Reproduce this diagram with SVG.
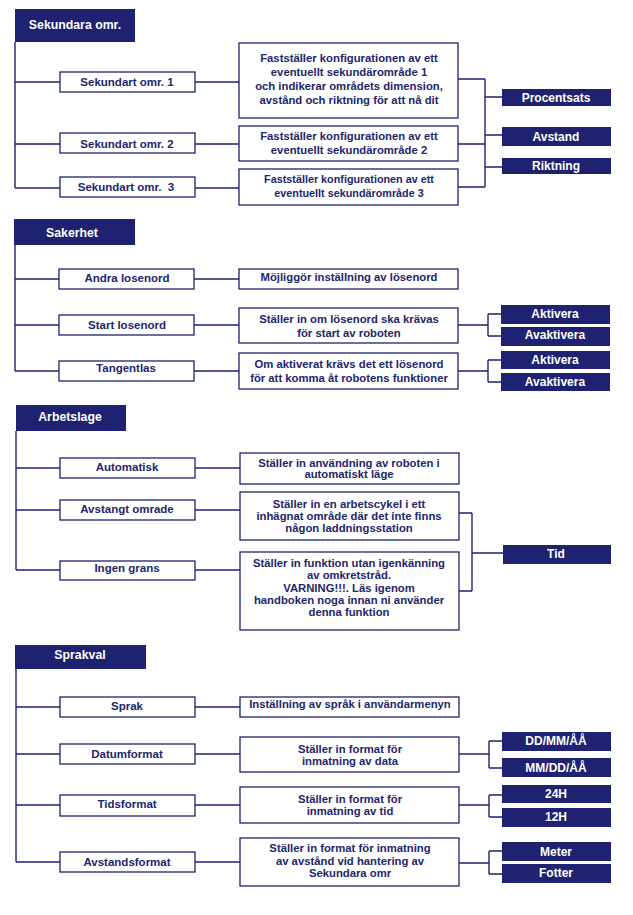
<svg xmlns="http://www.w3.org/2000/svg" width="633" height="915" viewBox="0 0 633 915">
<style>
.hdr{fill:#1e2270}
.box{fill:#fff;stroke:#1e2270;stroke-width:1.3}
.opt{fill:#1e2270}
.ht{font-family:"Liberation Sans",Arial,sans-serif;font-weight:bold;font-size:12.3px;fill:#fff}
.ot{font-family:"Liberation Sans",Arial,sans-serif;font-weight:bold;font-size:12px;fill:#fff;text-anchor:middle}
.lt{font-family:"Liberation Sans",Arial,sans-serif;font-weight:bold;font-size:11.5px;fill:#22266c;text-anchor:middle}
.dt{font-family:"Liberation Sans",Arial,sans-serif;font-weight:bold;font-size:11.3px;fill:#22266c;text-anchor:middle}
.con{fill:none;stroke:#1e2270;stroke-width:1.4}
</style>
<rect width="633" height="915" fill="#fff"/>
<g id="connectors" class="con">
<path d="M15 42V188M15 82H60M195 82H239M15 144H60M195 144H239M15 188H60M195 188H239M458 79H485M458 144H485M458 187H485M485 79V187M485 97H502M485 135H502M485 167H502"/>
<path d="M15 245V371M15 279H59M194 279H239M15 325H59M194 325H239M15 371H59M194 371H239M458 325H488M488 314V336M488 314H501M488 336H501M458 371H488M488 360V382M488 360H501M488 382H501"/>
<path d="M16 431V570M16 468H60M195 468H240M16 510H60M195 510H240M16 570H60M195 570H240M459 513H472M459 591H472M472 513V591M472 553H503"/>
<path d="M16 669V862M16 707H60M195 707H240M16 754H60M195 754H240M16 805H60M195 805H240M16 862H60M195 862H240M459 754H489M489 741V768M489 741H502M489 768H502M459 805H489M489 795V817M489 795H502M489 817H502M459 863H489M489 851V874M489 851H502M489 874H502"/>
</g>
<!-- Section 1 -->
<g id="sekundara"><rect class="hdr" x="15" y="9" width="120" height="33"/><text class="ht" x="75" y="29" text-anchor="middle">Sekundara omr.</text></g>
<g id="sek1"><rect class="box" x="60" y="72" width="135" height="20"/><text class="lt" x="127" y="86">Sekundart omr. 1</text></g>
<g id="sek2"><rect class="box" x="60" y="133" width="135" height="20"/><text class="lt" x="127" y="148">Sekundart omr. 2</text></g>
<g id="sek3"><rect class="box" x="60" y="177" width="135" height="20"/><text class="lt" x="126" y="191" xml:space="preserve">Sekundart omr.  3</text></g>
<g id="desc-sek1"><rect class="box" x="239" y="43" width="219" height="75"/><text class="dt"><tspan x="349" y="62">Fastställer konfigurationen av ett</tspan><tspan x="349" y="76">eventuellt sekundärområde 1</tspan><tspan x="349" y="90">och indikerar områdets dimension,</tspan><tspan x="349" y="104">avstånd och riktning för att nå dit</tspan></text></g>
<g id="desc-sek2"><rect class="box" x="239" y="126" width="219" height="35"/><text class="dt"><tspan x="349" y="140">Fastställer konfigurationen av ett</tspan><tspan x="349" y="154">eventuellt sekundärområde 2</tspan></text></g>
<g id="desc-sek3"><rect class="box" x="239" y="169" width="219" height="36"/><text class="dt" style="font-size:10.8px"><tspan x="349" y="183">Fastställer konfigurationen av ett</tspan><tspan x="349" y="197">eventuellt sekundärområde 3</tspan></text></g>
<g id="procentsats"><rect class="opt" x="502" y="89" width="109" height="17"/><text class="ot" x="556" y="102">Procentsats</text></g>
<g id="avstand"><rect class="opt" x="502" y="127" width="109" height="19"/><text class="ot" x="556" y="141">Avstand</text></g>
<g id="riktning"><rect class="opt" x="502" y="158" width="109" height="16"/><text class="ot" x="556" y="170">Riktning</text></g>
<!-- Section 2 -->
<g id="sakerhet"><rect class="hdr" x="14" y="219" width="121" height="26"/><text class="ht" x="72" y="237" text-anchor="middle">Sakerhet</text></g>
<g id="andra-losenord"><rect class="box" x="59" y="269" width="135" height="20"/><text class="lt" x="127" y="282">Andra losenord</text></g>
<g id="start-losenord"><rect class="box" x="59" y="315" width="135" height="20"/><text class="lt" x="127" y="329">Start losenord</text></g>
<g id="tangentlas"><rect class="box" x="59" y="361" width="135" height="20"/><text class="lt" x="126" y="372">Tangentlas</text></g>
<g id="desc-andra"><rect class="box" x="239" y="269" width="219" height="20"/><text class="dt" x="349" y="281">Möjliggör inställning av lösenord</text></g>
<g id="desc-start"><rect class="box" x="239" y="308" width="219" height="35"/><text class="dt"><tspan x="349" y="323">Ställer in om lösenord ska krävas</tspan><tspan x="349" y="337">för start av roboten</tspan></text></g>
<g id="desc-tangent"><rect class="box" x="239" y="353" width="219" height="36"/><text class="dt"><tspan x="349" y="368">Om aktiverat krävs det ett lösenord</tspan><tspan x="349" y="382">för att komma åt robotens funktioner</tspan></text></g>
<g id="aktivera1"><rect class="opt" x="501" y="305" width="109" height="19"/><text class="ot" x="555" y="318">Aktivera</text></g>
<g id="avaktivera1"><rect class="opt" x="501" y="327" width="109" height="19"/><text class="ot" x="555" y="339">Avaktivera</text></g>
<g id="aktivera2"><rect class="opt" x="501" y="351" width="109" height="18"/><text class="ot" x="555" y="364">Aktivera</text></g>
<g id="avaktivera2"><rect class="opt" x="501" y="373" width="109" height="18"/><text class="ot" x="555" y="386">Avaktivera</text></g>
<!-- Section 3 -->
<g id="arbetslage"><rect class="hdr" x="16" y="405" width="110" height="26"/><text class="ht" x="70" y="421" text-anchor="middle">Arbetslage</text></g>
<g id="automatisk"><rect class="box" x="60" y="458" width="135" height="20"/><text class="lt" x="127" y="471">Automatisk</text></g>
<g id="avstangt"><rect class="box" x="60" y="500" width="135" height="20"/><text class="lt" x="127" y="513">Avstangt omrade</text></g>
<g id="ingen-grans"><rect class="box" x="60" y="561" width="135" height="19"/><text class="lt" x="127" y="572">Ingen grans</text></g>
<g id="desc-automatisk"><rect class="box" x="240" y="453" width="219" height="31"/><text class="dt"><tspan x="349" y="467">Ställer in användning av roboten i</tspan><tspan x="349" y="478">automatiskt läge</tspan></text></g>
<g id="desc-avstangt"><rect class="box" x="240" y="492" width="219" height="48"/><text class="dt"><tspan x="349" y="508">Ställer in en arbetscykel i ett</tspan><tspan x="349" y="520">inhägnat område där det inte finns</tspan><tspan x="349" y="532">någon laddningsstation</tspan></text></g>
<g id="desc-ingen"><rect class="box" x="240" y="552" width="219" height="78"/><text class="dt"><tspan x="349" y="567">Ställer in funktion utan igenkänning</tspan><tspan x="349" y="579">av omkretstråd.</tspan><tspan x="349" y="592">VARNING!!!. Läs igenom</tspan><tspan x="349" y="604">handboken noga innan ni använder</tspan><tspan x="349" y="616">denna funktion</tspan></text></g>
<g id="tid"><rect class="opt" x="503" y="545" width="108" height="19"/><text class="ot" x="556" y="558">Tid</text></g>
<!-- Section 4 -->
<g id="sprakval"><rect class="hdr" x="15" y="645" width="131" height="24"/><text class="ht" x="80" y="659" text-anchor="middle">Sprakval</text></g>
<g id="sprak"><rect class="box" x="60" y="697" width="135" height="20"/><text class="lt" x="127" y="710">Sprak</text></g>
<g id="datumformat"><rect class="box" x="60" y="744" width="135" height="20"/><text class="lt" x="127" y="758">Datumformat</text></g>
<g id="tidsformat"><rect class="box" x="60" y="795" width="135" height="21"/><text class="lt" x="127" y="808">Tidsformat</text></g>
<g id="avstandsformat"><rect class="box" x="60" y="852" width="135" height="20"/><text class="lt" x="127" y="866">Avstandsformat</text></g>
<g id="desc-sprak"><rect class="box" x="240" y="697" width="219" height="20"/><text class="dt" x="350" y="708">Inställning av språk i användarmenyn</text></g>
<g id="desc-datum"><rect class="box" x="240" y="737" width="219" height="35"/><text class="dt"><tspan x="350" y="753">Ställer in format för</tspan><tspan x="350" y="765">inmatning av data</tspan></text></g>
<g id="desc-tids"><rect class="box" x="240" y="787" width="219" height="36"/><text class="dt"><tspan x="350" y="803">Ställer in format för</tspan><tspan x="350" y="815">inmatning av tid</tspan></text></g>
<g id="desc-avstands"><rect class="box" x="240" y="838" width="219" height="48"/><text class="dt"><tspan x="350" y="852">Ställer in format för inmatning</tspan><tspan x="350" y="865">av avstånd vid hantering av</tspan><tspan x="350" y="877">Sekundara omr</tspan></text></g>
<g id="ddmmaa"><rect class="opt" x="502" y="732" width="109" height="19"/><text class="ot" x="556" y="745">DD/MM/ÅÅ</text></g>
<g id="mmddaa"><rect class="opt" x="502" y="758" width="109" height="19"/><text class="ot" x="556" y="772">MM/DD/ÅÅ</text></g>
<g id="h24"><rect class="opt" x="502" y="785" width="109" height="18"/><text class="ot" x="556" y="798">24H</text></g>
<g id="h12"><rect class="opt" x="502" y="808" width="109" height="19"/><text class="ot" x="556" y="821">12H</text></g>
<g id="meter"><rect class="opt" x="502" y="842" width="109" height="19"/><text class="ot" x="556" y="856">Meter</text></g>
<g id="fotter"><rect class="opt" x="502" y="864" width="109" height="19"/><text class="ot" x="556" y="877">Fotter</text></g>
</svg>
